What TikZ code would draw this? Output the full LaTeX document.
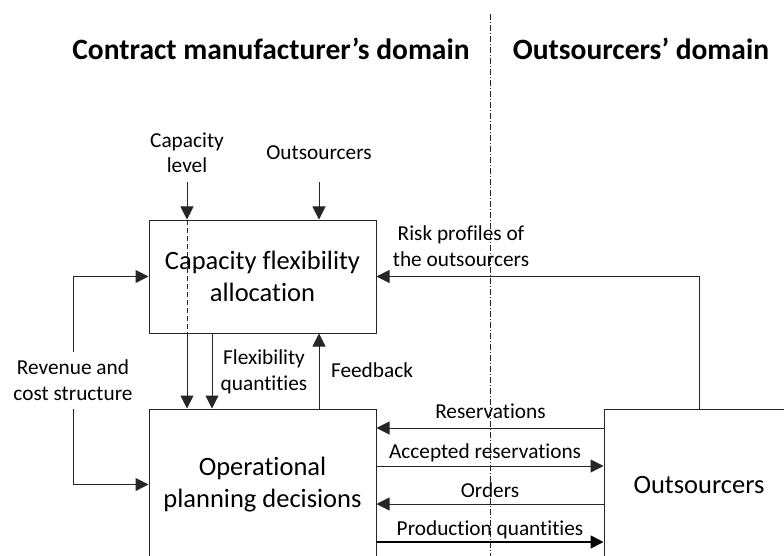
\documentclass[tikz,border=0pt]{standalone}
\usepackage{fontspec}
\setmainfont{Carlito}[Ligatures=NoCommon]
\usetikzlibrary{arrows.meta}
\begin{document}
\begin{tikzpicture}[x=1pt,y=-1pt,
  line/.style={draw=black!85, line width=1pt},
  arr/.style={line, -{Triangle[length=13pt,width=13pt]}},
  block/.style={draw=black!85, line width=1pt, align=center, inner sep=0pt,
    font=\fontsize{26.5}{32}\selectfont},
  lbl/.style={align=center, inner sep=0pt, anchor=base,
    font=\fontsize{21.3}{25.5}\selectfont},
  ttl/.style={inner sep=0pt, anchor=base, font=\fontsize{29.5}{34}\selectfont\bfseries}]
\clip (0,0) rectangle (784,556);

% domain titles and the dash-dot border between them
\node[ttl] (tcm) at (271,60) {Contract manufacturer’s domain};
\node[ttl] (tout) at (641,60) {Outsourcers’ domain};
\coordinate (sepTop) at (490,14);
\coordinate (sepBot) at (490,556);
\draw[black!85, line width=0.8pt, dash pattern=on 6pt off 2pt on 1pt off 2pt] (sepTop) -- (sepBot);

% main blocks
\node[block, minimum width=227pt, minimum height=113pt] (b1) at (262.5,276.5)
  {Capacity flexibility\\allocation};
\node[block, minimum width=227pt, minimum height=151pt] (b2) at (262.5,484.5)
  {Operational\\planning decisions};
\node[block, minimum width=190pt, minimum height=151pt] (out) at (699,484.5)
  {Outsourcers};

% x positions of vertical connectors
\coordinate (xcap) at (187,0);
\coordinate (xflex) at (212,0);
\coordinate (xfb) at (319,0);

% inputs from above (multi-line labels are placed by their last baseline)
\node[lbl] (lcap) at (187,173) {Capacity\\level};
\node[lbl] (lout) at (319,160) {Outsourcers};
\coordinate (capStart) at (187,182);
\coordinate (outStart) at (319,182);
\draw[arr] (capStart) -- (b1.north -| capStart);
\draw[arr] (outStart) -- (b1.north -| outStart);
\draw[line, dash pattern=on 5pt off 3pt] (b1.north -| xcap) -- (b1.south -| xcap);

% between the two blocks
\draw[arr] (b1.south -| xcap) -- (b2.north -| xcap);
\draw[arr] (b1.south -| xflex) -- (b2.north -| xflex);
\draw[arr] (b2.north -| xfb) -- (b1.south -| xfb);
\node[lbl] (lflex) at (264,390) {Flexibility\\quantities};
\node[lbl] (lfb) at (372,377) {Feedback};

% revenue and cost structure loop
\node[lbl] (lrev) at (73,400) {Revenue and\\cost structure};
\coordinate (revTop) at (73,352);
\coordinate (revBot) at (73,409);
\draw[arr] (revTop) |- (b1.west);
\draw[arr] (revBot) |- (b2.west);

% risk profiles feedback from the outsourcers
\draw[arr] (out.north) |- (b1.east);
\node[lbl] (lrisk) at (461,266) {Risk profiles of\\the outsourcers};

% exchanges with the outsourcers
\coordinate (yres) at (0,428);
\coordinate (yacc) at (0,466);
\coordinate (yord) at (0,504);
\coordinate (yprod) at (0,542);
\draw[arr] (out.west |- yres) -- (b2.east |- yres);
\draw[arr] (b2.east |- yacc) -- (out.west |- yacc);
\draw[arr] (out.west |- yord) -- (b2.east |- yord);
\draw[arr, draw=black, line width=1.6pt] (b2.east |- yprod) -- (out.west |- yprod);
\node[lbl] (lres) at (490.5,418) {Reservations};
\node[lbl] (lacc) at (485,458) {Accepted reservations};
\node[lbl] (lord) at (490,497) {Orders};
\node[lbl] (lprod) at (490,535) {Production quantities};
\end{tikzpicture}
\end{document}
